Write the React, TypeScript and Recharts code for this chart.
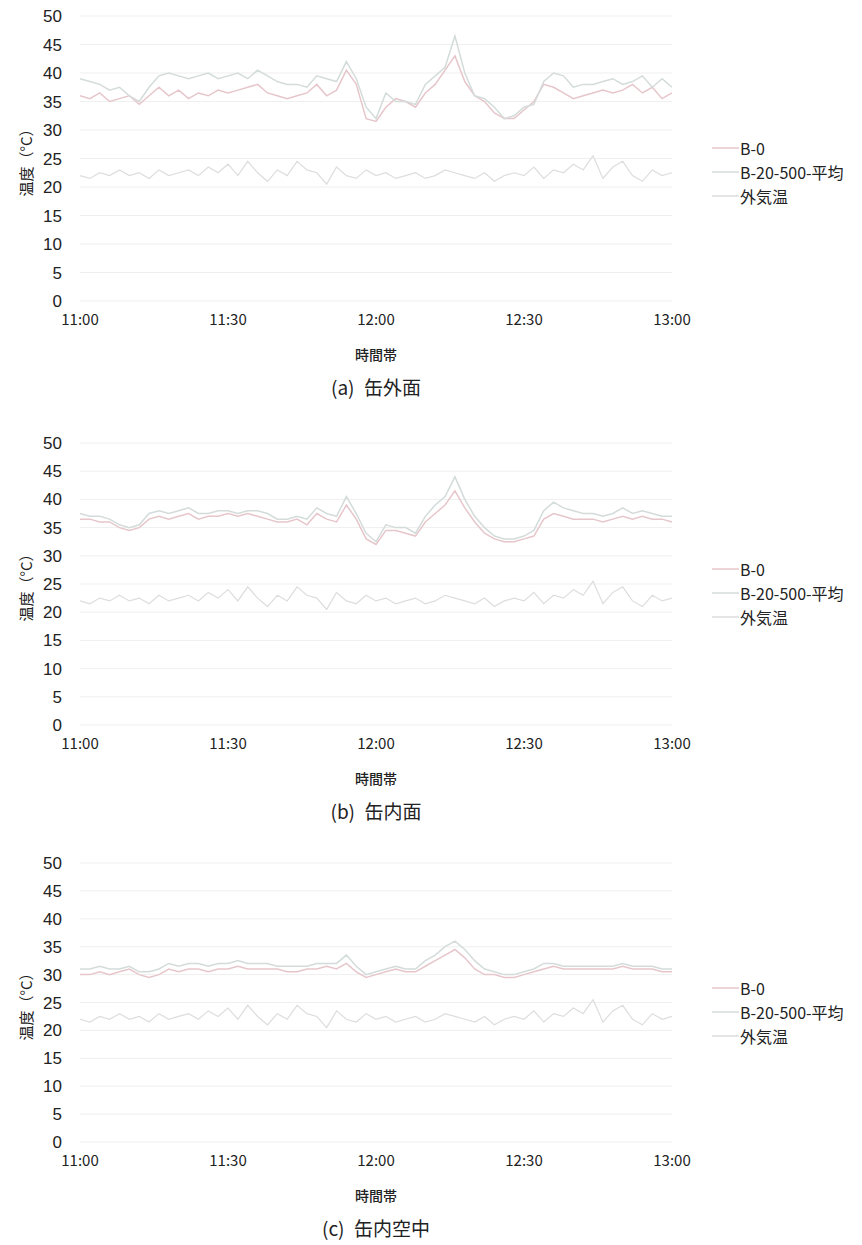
import { LineChart, Line, XAxis, YAxis, CartesianGrid } from "recharts";

// minutes after 11:00
const minutes = [
  0, 2, 4, 6, 8, 10, 12, 14, 16, 18, 20, 22, 24, 26, 28, 30, 32, 34, 36, 38, 40,
  42, 44, 46, 48, 50, 52, 54, 56, 58, 60, 62, 64, 66, 68, 70, 72, 74, 76, 78, 80,
  82, 84, 86, 88, 90, 92, 94, 96, 98, 100, 102, 104, 106, 108, 110, 112, 114, 116, 118, 120,
];

const timeTicks = [0, 30, 60, 90, 120];
const timeLabels = ["11:00", "11:30", "12:00", "12:30", "13:00"];
const tempTicks = [0, 5, 10, 15, 20, 25, 30, 35, 40, 45, 50];
const seriesNames = ["B-0", "B-20-500-平均", "外気温"];

const outside = [
  22, 21.5, 22.5, 22, 23, 22, 22.5, 21.5, 23, 22, 22.5, 23, 22, 23.5, 22.5, 24, 22, 24.5, 22.5, 21, 23,
  22, 24.5, 23, 22.5, 20.5, 23.5, 22, 21.5, 23, 22, 22.5, 21.5, 22, 22.5, 21.5, 22, 23, 22.5, 22, 21.5,
  22.5, 21, 22, 22.5, 22, 23.5, 21.5, 23, 22.5, 24, 23, 25.5, 21.5, 23.5, 24.5, 22, 21, 23, 22, 22.5,
];

// (a) 缶外面
const outerB0 = [
  36, 35.5, 36.5, 35, 35.5, 36, 34.5, 36, 37.5, 36, 37, 35.5, 36.5, 36, 37, 36.5, 37, 37.5, 38, 36.5, 36,
  35.5, 36, 36.5, 38, 36, 37, 40.5, 38, 32, 31.5, 34, 35.5, 35, 34, 36.5, 38, 40.5, 43, 38.5, 36,
  35, 33, 32, 32, 33.5, 35, 38, 37.5, 36.5, 35.5, 36, 36.5, 37, 36.5, 37, 38, 36.5, 37.5, 35.5, 36.5,
];
const outerB20 = [
  39, 38.5, 38, 37, 37.5, 36, 35, 37.5, 39.5, 40, 39.5, 39, 39.5, 40, 39, 39.5, 40, 39, 40.5, 39.5, 38.5,
  38, 38, 37.5, 39.5, 39, 38.5, 42, 39, 34, 32, 36.5, 35, 35, 34.5, 38, 39.5, 41, 46.5, 40, 36,
  35.5, 34, 32, 32.5, 34, 34.5, 38.5, 40, 39.5, 37.5, 38, 38, 38.5, 39, 38, 38.5, 39.5, 37.5, 39, 37.5,
];

// (b) 缶内面
const innerB0 = [
  36.5, 36.5, 36, 36, 35, 34.5, 35, 36.5, 37, 36.5, 37, 37.5, 36.5, 37, 37, 37.5, 37, 37.5, 37, 36.5, 36,
  36, 36.5, 35.5, 37.5, 36.5, 36, 39, 36.5, 33, 32, 34.5, 34.5, 34, 33.5, 36, 37.5, 39, 41.5, 38.5, 36,
  34, 33, 32.5, 32.5, 33, 33.5, 36.5, 37.5, 37, 36.5, 36.5, 36.5, 36, 36.5, 37, 36.5, 37, 36.5, 36.5, 36,
];
const innerB20 = [
  37.5, 37, 37, 36.5, 35.5, 35, 35.5, 37.5, 38, 37.5, 38, 38.5, 37.5, 37.5, 38, 38, 37.5, 38, 38, 37.5, 36.5,
  36.5, 37, 36.5, 38.5, 37.5, 37, 40.5, 37.5, 34, 32.5, 35.5, 35, 35, 34, 37, 39, 40.5, 44, 40, 37,
  35, 33.5, 33, 33, 33.5, 34.5, 38, 39.5, 38.5, 38, 37.5, 37.5, 37, 37.5, 38.5, 37.5, 38, 37.5, 37, 37,
];

// (c) 缶内空中
const airB0 = [
  30, 30, 30.5, 30, 30.5, 31, 30, 29.5, 30, 31, 30.5, 31, 31, 30.5, 31, 31, 31.5, 31, 31, 31, 31,
  30.5, 30.5, 31, 31, 31.5, 31, 32, 30.5, 29.5, 30, 30.5, 31, 30.5, 30.5, 31.5, 32.5, 33.5, 34.5, 33, 31,
  30, 30, 29.5, 29.5, 30, 30.5, 31, 31.5, 31, 31, 31, 31, 31, 31, 31.5, 31, 31, 31, 30.5, 30.5,
];
const airB20 = [
  31, 31, 31.5, 31, 31, 31.5, 30.5, 30.5, 31, 32, 31.5, 32, 32, 31.5, 32, 32, 32.5, 32, 32, 32, 31.5,
  31.5, 31.5, 31.5, 32, 32, 32, 33.5, 31.5, 30, 30.5, 31, 31.5, 31, 31, 32.5, 33.5, 35, 36, 34.5, 32.5,
  31, 30.5, 30, 30, 30.5, 31, 32, 32, 31.5, 31.5, 31.5, 31.5, 31.5, 31.5, 32, 31.5, 31.5, 31.5, 31, 31,
];

const colors = ["#e6c6ca", "#d3dcda", "#dddddd"];
const FONT = "'Noto Sans CJK JP', 'Noto Sans', sans-serif";

const panels = [
  { caption: "(a)\u2002缶外面", plotTop: 16, plotH: 285, legendY: 148, b0: outerB0, b20: outerB20 },
  { caption: "(b)\u2002缶内面", plotTop: 443, plotH: 282, legendY: 569, b0: innerB0, b20: innerB20 },
  { caption: "(c)\u2002缶内空中", plotTop: 863, plotH: 279, legendY: 988, b0: airB0, b20: airB20 },
];

const MT = 10;
const PLOT_L = 80;
const PLOT_R = 672;
const CX = (PLOT_L + PLOT_R) / 2;

function LegendBox({ y }: { y: number }) {
  return (
    <div style={{ position: "absolute", left: 712, top: y - 12, fontFamily: FONT, fontSize: 16, color: "#222" }}>
      {seriesNames.map((n, i) => (
        <div key={n} style={{ display: "flex", alignItems: "center", height: 24, whiteSpace: "nowrap" }}>
          <svg width={27} height={10} style={{ marginRight: 1 }}>
            <line x1={0} y1={5} x2={27} y2={5} stroke={colors[i]} strokeWidth={1.5} />
          </svg>
          <span>{n}</span>
        </div>
      ))}
    </div>
  );
}

function Panel({ p }: { p: (typeof panels)[number] }) {
  const data = minutes.map((t, i) => ({ t, b0: p.b0[i], b20: p.b20[i], out: outside[i] }));
  const top = p.plotTop - MT;
  const bottom = p.plotTop + p.plotH;
  return (
    <>
      <div style={{ position: "absolute", left: 0, top }}>
        <LineChart
          width={PLOT_R + 20}
          height={MT + p.plotH + 40}
          data={data}
          margin={{ top: MT, right: 20, bottom: 10, left: 0 }}
        >
          <CartesianGrid vertical={false} stroke="#efefef" />
          <XAxis
            dataKey="t"
            type="number"
            domain={[0, 120]}
            ticks={timeTicks}
            interval={0}
            tickFormatter={(v: number) => timeLabels[timeTicks.indexOf(v)]}
            axisLine={false}
            tickLine={false}
            tickSize={0}
            tickMargin={13}
            height={30}
            tick={{ fill: "#222", fontSize: 15, fontFamily: FONT }}
          />
          <YAxis
            domain={[0, 50]}
            ticks={tempTicks}
            interval={0}
            width={PLOT_L}
            axisLine={false}
            tickLine={false}
            tickSize={0}
            tickMargin={18}
            tick={{ fill: "#222", fontSize: 17, fontFamily: "'Liberation Sans', Arial, sans-serif" }}
          />
          <Line dataKey="b0" name={seriesNames[0]} stroke={colors[0]} strokeWidth={1.5} dot={false} isAnimationActive={false} />
          <Line dataKey="b20" name={seriesNames[1]} stroke={colors[1]} strokeWidth={1.5} dot={false} isAnimationActive={false} />
          <Line dataKey="out" name={seriesNames[2]} stroke={colors[2]} strokeWidth={1.2} dot={false} isAnimationActive={false} />
        </LineChart>
      </div>
      <LegendBox y={p.legendY} />
      {/* y-axis title */}
      <div
        style={{
          position: "absolute",
          left: 25,
          top: p.plotTop + p.plotH / 2,
          transform: "translate(-50%, -50%) rotate(-90deg)",
          whiteSpace: "nowrap",
          fontFamily: FONT,
          fontSize: 15,
          color: "#222",
        }}
      >
        温度（°C）
      </div>
      {/* x-axis title */}
      <div
        style={{
          position: "absolute",
          left: CX,
          top: bottom + 53,
          transform: "translate(-50%, -50%)",
          fontFamily: FONT,
          fontSize: 14,
          fontWeight: 500,
          color: "#222",
        }}
      >
        時間帯
      </div>
      {/* caption */}
      <div
        style={{
          position: "absolute",
          left: CX,
          top: bottom + 85,
          transform: "translate(-50%, -50%)",
          whiteSpace: "nowrap",
          fontFamily: FONT,
          fontSize: 19,
          color: "#222",
        }}
      >
        {p.caption}
      </div>
    </>
  );
}

export default function App() {
  return (
    <div style={{ position: "absolute", left: 0, top: 0, width: 862, height: 1245, background: "#fff" }}>
      {panels.map((p) => (
        <Panel key={p.caption} p={p} />
      ))}
    </div>
  );
}
